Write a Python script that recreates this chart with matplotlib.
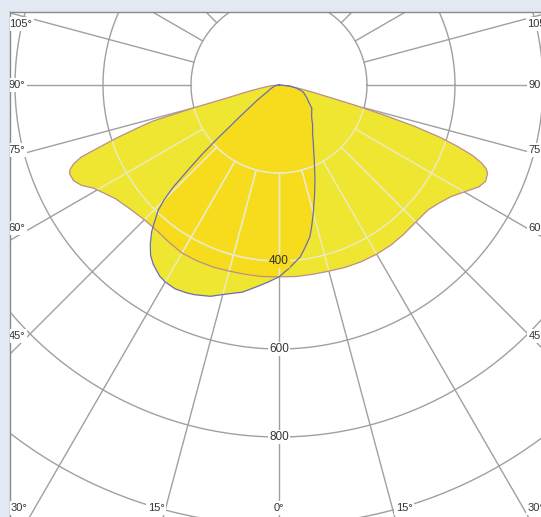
import numpy as np
import matplotlib
matplotlib.use('Agg')
import matplotlib.pyplot as plt
from matplotlib.patches import Polygon

# C0-C180 plane (wide batwing), angle from nadir in degrees, intensity in cd
wide_ang = [-90, -85, -80, -78, -76, -75, -74, -73, -72, -71, -70, -69, -68, -67,
            -65, -63, -61, -58, -55, -50, -45, -40, -35, -30, -25, -20, -15, -10, -5,
            0, 5, 10, 15, 20, 25, 30, 35, 40, 45, 50, 53, 57, 60, 63, 65, 67, 68,
            69, 70, 71, 72, 73, 74, 75, 76, 78, 80, 85, 90]
wide_cd = [0, 18, 45, 75, 122, 202, 300, 340, 385, 428, 478, 500, 512, 517,
           515, 503, 483, 466, 452, 440, 433, 432, 436, 441, 441, 440, 438, 437, 437,
           436, 437, 437, 438, 441, 443, 444, 444, 442, 440, 442, 450, 466, 486, 510, 518, 515, 508,
           492, 468, 430, 385, 325, 250, 185, 130, 77, 50, 18, 0]

# C90-C270 plane (asymmetric lobe)
narrow_ang = [-90, -80, -70, -65, -60, -57, -55, -53, -51, -50, -49, -48, -47, -46,
              -45, -44, -42, -41, -39, -37, -35, -32, -30, -27, -24, -22, -18, -15,
              -10, -6, -3, 0, 3, 7, 9, 11.5, 13, 15, 18, 21, 25, 31, 35, 40, 45, 50,
              55, 60, 65, 70, 74, 80, 85, 90]
narrow_cd = [0, 8, 15, 22, 30, 45, 60, 80, 115, 140, 185, 235, 280, 335,
             370, 395, 425, 441, 465, 485, 498, 512, 517, 520, 517, 514, 505, 493,
             478, 460, 448, 436, 418, 394, 375, 352, 330, 301, 262, 228, 190, 151, 133, 119, 105, 97,
             91, 78, 70, 62, 57, 40, 25, 0]

ring_values = [200, 400, 600, 800, 1000, 1200]
ring_labels = ['400', '600', '800']
spoke_step = 15

# angle labels: text and pixel position in the picture
angle_text = ['105°', '90°', '75°', '60°', '45°', '30°', '15°', '0°',
              '15°', '30°', '45°', '60°', '75°', '90°', '105°']
angle_px = [(21, 24), (17, 85), (17, 150), (17, 228), (17, 336), (19, 508), (156, 508),
            (279, 508), (404, 508), (536, 508), (537, 336), (537, 228), (537, 150),
            (537, 85), (539, 24)]

CX, CY, S = 279, 85, 0.44   # centre pixel, pixels per cd

light = '#efe632'
dark = '#f6dc1c'
grid_col = '#a0a0a0'
pale_col = '#ecebc6'


def to_xy(ang, cd):
    t = np.radians(np.asarray(ang, dtype=float))
    cd = np.asarray(cd, dtype=float)
    return cd * np.sin(t), -cd * np.cos(t)


def px(x, y):
    return (x - CX) / S, -(y - CY) / S


def draw_grid(ax, color, lw, clip=None):
    arts = []
    phi = np.linspace(0, 2 * np.pi, 720)
    for r in ring_values:
        arts += ax.plot(r * np.cos(phi), r * np.sin(phi), color=color, lw=lw, zorder=2)
    for a in range(-180, 180, spoke_step):
        xs, ys = to_xy([a, a], [ring_values[0], 3000])
        arts += ax.plot(xs, ys, color=color, lw=lw, zorder=2)
    if clip is not None:
        for art in arts:
            art.set_clip_path(clip)
            art.set_zorder(4)


fig = plt.figure(figsize=(5.41, 5.17), dpi=100, facecolor='#e3e9f2')
ax = fig.add_axes([10 / 541, 0, 531 / 541, 505 / 517])
ax.set_xlim(px(10, 0)[0], px(541, 0)[0])
ax.set_ylim(px(0, 517)[1], px(0, 12)[1])
ax.set_facecolor('white')
ax.set_xticks([])
ax.set_yticks([])
for s in ['right', 'bottom']:
    ax.spines[s].set_visible(False)
for s in ['top', 'left']:
    ax.spines[s].set_color('#8a8a8a')
    ax.spines[s].set_linewidth(1.0)

draw_grid(ax, grid_col, 1.0)

wx, wy = to_xy(wide_ang, wide_cd)
nx, ny = to_xy(narrow_ang, narrow_cd)
wide_poly = Polygon(np.column_stack([wx, wy]), closed=True, fc=light, ec='none', zorder=3)
narrow_poly = Polygon(np.column_stack([nx, ny]), closed=True, fc=light, ec='none', zorder=3)
ax.add_patch(wide_poly)
ax.add_patch(narrow_poly)
overlap = Polygon(np.column_stack([nx, ny]), closed=True, fc=dark, ec='none', zorder=3.5)
ax.add_patch(overlap)
overlap.set_clip_path(wide_poly)

draw_grid(ax, pale_col, 1.0, clip=wide_poly)
draw_grid(ax, pale_col, 1.0, clip=narrow_poly)

ax.plot(np.append(wx, wx[0]), np.append(wy, wy[0]), color='#b98f86', lw=0.9, zorder=5)
ax.plot(np.append(nx, nx[0]), np.append(ny, ny[0]), color='#6d6cb0', lw=0.9, zorder=5)

# ring value labels along the 0 deg line
for i, lab in enumerate(ring_labels):
    r = ring_values[i + 1]
    x, y = to_xy(0, r)
    fc = dark if r < 440 else 'white'
    ax.text(x, y, lab, ha='center', va='center', fontsize=8.5, color='#333333',
            family='Liberation Sans', zorder=6,
            bbox=dict(boxstyle='square,pad=0.12', fc=fc, ec='none'))

for lab, (x, y) in zip(angle_text, angle_px):
    dx, dy = px(x, y)
    ax.text(dx, dy, lab, ha='center', va='center', fontsize=8, color='#333333',
            family='Liberation Sans', zorder=6, clip_on=True,
            bbox=dict(boxstyle='square,pad=0.15', fc='white', ec='none'))

fig.savefig('out.png', dpi=100, facecolor=fig.get_facecolor())
